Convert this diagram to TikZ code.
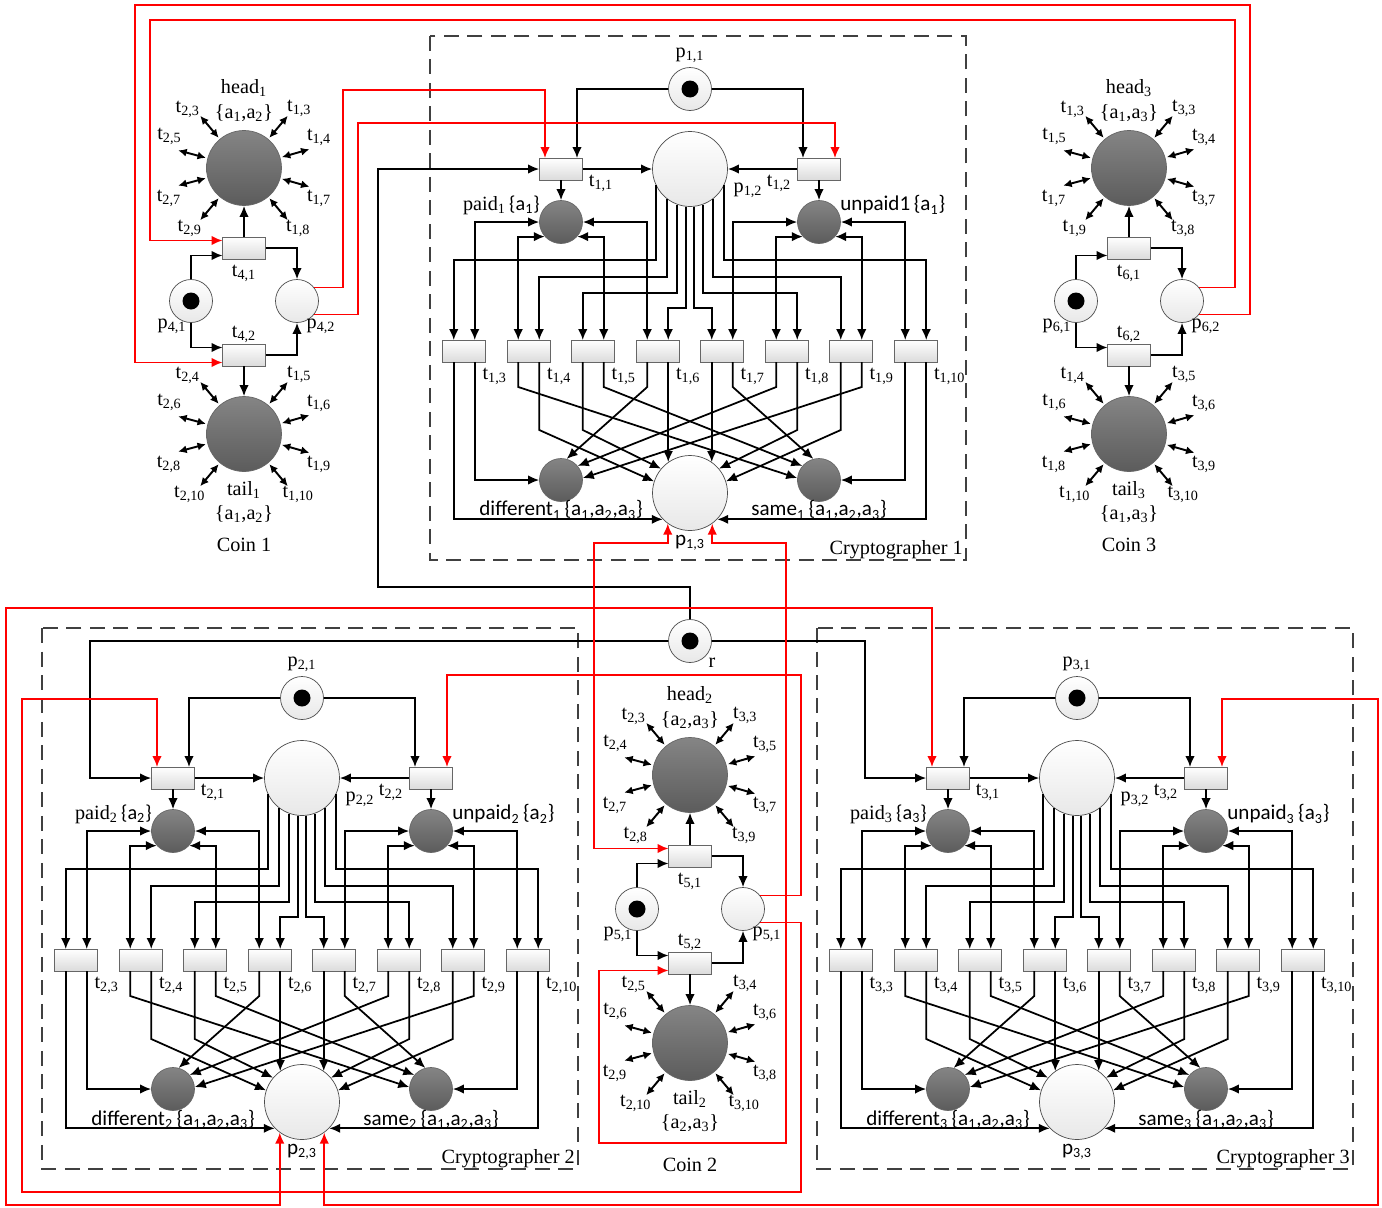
\documentclass[tikz,border=0pt]{standalone}
\usepackage{fontspec}
\setmainfont{Liberation Serif}
\setsansfont{Carlito}
\usetikzlibrary{calc,arrows.meta}

\tikzset{
	pl/.style={circle,draw=black!70,thin,top color=white,bottom color=black!9,minimum size=0.86cm,inner sep=0pt},
	bigpl/.style={pl,minimum size=1.5cm},
	graypl/.style={circle,draw=black!60,thin,top color=black!48,bottom color=black!64,minimum size=0.86cm,inner sep=0pt},
	coinpl/.style={graypl,minimum size=1.5cm},
	tok/.style={circle,fill=black,minimum size=0.34cm,inner sep=0pt},
	trans/.style={rectangle,draw=black!60,thin,top color=white,bottom color=black!14,minimum width=0.86cm,minimum height=0.44cm,inner sep=0pt},
	flow/.style={-{Latex[length=2.2mm,width=1.9mm]},line width=1pt},
	biflow/.style={{Latex[length=2.2mm,width=1.9mm]}-{Latex[length=2.2mm,width=1.9mm]},line width=1pt},
	readflow/.style={{Latex[length=1.7mm,width=1.6mm]}-{Latex[length=1.7mm,width=1.6mm]},line width=1.1pt},
	rflow/.style={flow,red},
	rbiflow/.style={biflow,red},
	cbox/.style={draw=black!75,line width=0.9pt,dash pattern=on 0.3cm off 0.17cm},
	lab/.style={inner sep=0pt,font=\fontsize{11.5}{13}\selectfont},
	slab/.style={inner sep=0pt,font=\sffamily\fontsize{12}{14}\selectfont}
}

\begin{document}
\begin{tikzpicture}[x=0.02cm,y=-0.02cm]
\useasboundingbox (0,0) rectangle (1382,1207);

% cryptographers
\foreach \ci/\cx/\cy/\bt/\unp in {1/690/169/133/{unpaid1},2/302/778/150/{unpaid\textsubscript{2}},3/1077/778/150/{unpaid\textsubscript{3}}}{
\begin{scope}[shift={(\cx,\cy)}]
	\draw[cbox] (-260,-\bt) rectangle (276,391);
	\node[lab,anchor=base east] (c\ci-name) at (273,385) {Cryptographer \ci};
	\node[pl] (c\ci-p1) at (0,-80) {};
	\node[tok] (c\ci-tok) at (c\ci-p1) {};
	\node[bigpl] (c\ci-p2) at (0,0) {};
	\node[bigpl] (c\ci-p3) at (0,324) {};
	\node[trans] (c\ci-t1) at (-129,0) {};
	\node[trans] (c\ci-t2) at (129,0) {};
	\node[graypl] (c\ci-paid) at (-129,53) {};
	\node[graypl] (c\ci-unpaid) at (129,53) {};
	\node[graypl] (c\ci-dif) at (-129,311) {};
	\node[graypl] (c\ci-same) at (129,311) {};
	\coordinate (c\ci-t1-r) at (-145,-11);
	\coordinate (c\ci-t1-b) at (-113,-11);
	\coordinate (c\ci-t2-b) at (113,-11);
	\coordinate (c\ci-t2-r) at (145,-11);
	\coordinate (c\ci-lv1) at (0,91);
	\coordinate (c\ci-lv2) at (0,108);
	\coordinate (c\ci-lv3) at (0,124);
	\coordinate (c\ci-lv4) at (0,139);
	\coordinate (c\ci-la) at (0,218);
	\coordinate (c\ci-lb) at (0,261);
	\foreach \k in {3,...,10}{
		\pgfmathsetmacro\dx{(\k-6.5)*64.5}
		\node[trans] (c\ci-t\k) at (\dx,182) {};
		\node[lab,anchor=west] (c\ci-t\k-lab) at (\dx+18,207) {t\textsubscript{\ci,\k}};
		\coordinate (c\ci-t\k-li) at (\dx-10.5,171);
		\coordinate (c\ci-t\k-ri) at (\dx+10.5,171);
		\coordinate (c\ci-t\k-lo) at (\dx-10.5,193);
		\coordinate (c\ci-t\k-ro) at (\dx+10.5,193);
	}

	\node[lab] (c\ci-p1-lab) at (0,-114) {p\textsubscript{\ci,1}};
	\node[lab] (c\ci-p2-lab) at (58,21) {p\textsubscript{\ci,2}};
	\node[lab] (c\ci-t1-lab) at (-89,14) {t\textsubscript{\ci,1}};
	\node[lab] (c\ci-t2-lab) at (89,14) {t\textsubscript{\ci,2}};
	\node[lab,anchor=east] (c\ci-paid-lab) at (-150,36) {paid\textsubscript{\ci}\,{\sffamily\{a\textsubscript{\ci}\}}};
	\node[slab,anchor=west] (c\ci-unpaid-lab) at (150,36) {\unp\,\{a\textsubscript{\ci}\}};
	\node[slab] (c\ci-dif-lab) at (-129,341) {different\textsubscript{\ci}\,\{a\textsubscript{1},a\textsubscript{2},a\textsubscript{3}\}};
	\node[slab] (c\ci-same-lab) at (129,341) {same\textsubscript{\ci}\,\{a\textsubscript{1},a\textsubscript{2},a\textsubscript{3}\}};
	\node[slab] (c\ci-p3-lab) at (0,374) {p\textsubscript{\ci,3}};

	\draw[flow] (c\ci-p1) -| (c\ci-t1-b);
	\draw[flow] (c\ci-p1) -| (c\ci-t2-b);
	\draw[flow] (c\ci-t1) -- (c\ci-p2);
	\draw[flow] (c\ci-t2) -- (c\ci-p2);
	\draw[flow] (c\ci-t1) -- (c\ci-paid);
	\draw[flow] (c\ci-t2) -- (c\ci-unpaid);

	% p2 feeds every test transition
	\foreach \k/\ang/\lv/\sd in {3/-155/1/li,4/-128/2/ri,5/-110/3/li,6/-96/4/ri,7/-84/4/li,8/-70/3/ri,9/-52/2/li,10/-25/1/ri}
		\draw[flow] (c\ci-p2.\ang) |- (c\ci-t\k-\sd |- c\ci-lv\lv) -- (c\ci-t\k-\sd);

	\draw[biflow] (c\ci-paid) -| (c\ci-t3-ri);
	\draw[biflow] (c\ci-paid.-138) -| (c\ci-t4-li);
	\draw[biflow] (c\ci-paid.-42) -| (c\ci-t5-ri);
	\draw[biflow] (c\ci-paid) -| (c\ci-t6-li);
	\draw[biflow] (c\ci-unpaid) -| (c\ci-t7-ri);
	\draw[biflow] (c\ci-unpaid.-138) -| (c\ci-t8-li);
	\draw[biflow] (c\ci-unpaid.-42) -| (c\ci-t9-ri);
	\draw[biflow] (c\ci-unpaid) -| (c\ci-t10-li);

	\draw[flow] (c\ci-t3-lo) |- (c\ci-p3.-136);
	\draw[flow] (c\ci-t3-ro) |- (c\ci-dif);
	\draw[flow] (c\ci-t10-lo) |- (c\ci-same);
	\draw[flow] (c\ci-t10-ro) |- (c\ci-p3.-44);
	\draw[flow] (c\ci-t6-ro) -- (c\ci-t6-ro |- c\ci-p3.125);
	\draw[flow] (c\ci-t7-lo) -- (c\ci-t7-lo |- c\ci-p3.55);
	\foreach \k/\sd/\lv/\tg in {4/lo/a/same.175,4/ro/b/p3.162,5/lo/b/p3.140,5/ro/a/same.140,6/lo/a/dif.75,7/ro/a/same.105,8/lo/a/dif.40,8/ro/b/p3.40,9/lo/b/p3.18,9/ro/a/dif.5}
		\draw[flow] (c\ci-t\k-\sd) -- (c\ci-t\k-\sd |- c\ci-l\lv) -- (c\ci-\tg);
\end{scope}
}

% coins
\foreach \cn/\kx/\hy/\ty/\ix/\sA/\sB/\q/\ly in {4/244/168/434/1/1/2/2/545,5/690/775/1043/2/2/3/1/1165,6/1129/168/434/3/1/3/2/545}{
	\pgfmathsetmacro\py{(\hy+\ty)/2}
	\node[coinpl] (c\cn-head) at (\kx,\hy) {};
	\node[coinpl] (c\cn-tail) at (\kx,\ty) {};
	\node[trans] (c\cn-t1) at (\kx,\py-53) {};
	\node[trans] (c\cn-t2) at (\kx,\py+54) {};
	\node[pl] (c\cn-p1) at (\kx-53,\py) {};
	\node[tok] (c\cn-tok) at (c\cn-p1) {};
	\node[pl] (c\cn-p2) at (\kx+53,\py) {};
	\coordinate (c\cn-t1-r) at (\kx-21.5,\py-60.5);
	\coordinate (c\cn-t1-b) at (\kx-21.5,\py-45.5);
	\coordinate (c\cn-t2-b) at (\kx-21.5,\py+46.5);
	\coordinate (c\cn-t2-r) at (\kx-21.5,\py+61.5);

	\node[lab] (c\cn-head-lab) at (\kx,\hy-80) {head\textsubscript{\ix}};
	\node[lab] (c\cn-head-set) at (\kx,\hy-55) {\{a\textsubscript{\sA},a\textsubscript{\sB}\}};
	\node[lab] (c\cn-tail-lab) at (\kx,\ty+56) {tail\textsubscript{\ix}};
	\node[lab] (c\cn-tail-set) at (\kx,\ty+80) {\{a\textsubscript{\sA},a\textsubscript{\sB}\}};
	\node[lab] (c\cn-name) at (\kx,\ly) {Coin \ix};
	\node[lab] (c\cn-t1-lab) at (\kx,\py-28) {t\textsubscript{\cn,1}};
	\node[lab] (c\cn-t2-lab) at (\kx,\py+33) {t\textsubscript{\cn,2}};
	\node[lab] (c\cn-p1-lab) at (\kx-72,\py+25) {p\textsubscript{\cn,1}};
	\node[lab] (c\cn-p2-lab) at (\kx+77,\py+25) {p\textsubscript{\cn,\q}};

	\draw[flow] (c\cn-p1) |- (c\cn-t1-b);
	\draw[flow] (c\cn-p1) |- (c\cn-t2-b);
	\draw[flow] (c\cn-t1) -| (c\cn-p2);
	\draw[flow] (c\cn-t2) -| (c\cn-p2);
	\draw[flow] (c\cn-t1) -- (c\cn-head);
	\draw[flow] (c\cn-t2) -- (c\cn-tail);
}

% read arcs of the coin sides
\foreach \cp/\lst in {
	c4-head/{130/134/{2,3},165/157/{2,5},-165/-158/{2,7},-130/-132/{2,9},50/47/{1,3},16/22/{1,4},-16/-22/{1,7},-50/-48/{1,8}},
	c4-tail/{130/134/{2,4},165/157/{2,6},-165/-158/{2,8},-130/-132/{2,10},50/47/{1,5},16/22/{1,6},-16/-22/{1,9},-50/-48/{1,10}},
	c5-head/{130/134/{2,3},165/157/{2,4},-165/-158/{2,7},-130/-132/{2,8},50/47/{3,3},16/22/{3,5},-16/-22/{3,7},-50/-48/{3,9}},
	c5-tail/{130/134/{2,5},165/157/{2,6},-165/-158/{2,9},-130/-132/{2,10},50/47/{3,4},16/22/{3,6},-16/-22/{3,8},-50/-48/{3,10}},
	c6-head/{130/134/{1,3},165/157/{1,5},-165/-158/{1,7},-130/-132/{1,9},50/47/{3,3},16/22/{3,4},-16/-22/{3,7},-50/-48/{3,8}},
	c6-tail/{130/134/{1,4},165/157/{1,6},-165/-158/{1,8},-130/-132/{1,10},50/47/{3,5},16/22/{3,6},-16/-22/{3,9},-50/-48/{3,10}}}
	\foreach \ang/\lang/\txt in \lst {
		\draw[readflow] ($(\cp.center)!1.04!(\cp.\ang)$) -- ($(\cp.center)!1.8!(\cp.\ang)$);
		\node[lab] (\cp-\ang) at ($(\cp.center)!2.14!(\cp.\lang)$) {t\textsubscript{\txt}};
	}

% round token r
\node[pl] (r) at (690,641) {};
\node[tok] (r-tok) at (r) {};
\node[lab] (r-lab) at (712,663) {r};
\draw[flow] (r) |- (378,587) |- (c1-t1);
\draw[flow] (r) -| (90,778) -- (c2-t1);
\draw[flow] (r) -| (865,778) -- (c3-t1);

% coin outcomes to the cryptographers
\draw[rflow] (c4-p2.38) -| (343,90) -| (c1-t1-r);
\draw[rflow] (c4-p2.-38) -| (358,123) -| (c1-t2-r);
\draw[rflow] (c5-p2.38) -| (801,675) -| (c2-t2-r);
\draw[rflow] (c5-p2.-38) -| (801,1192) -- (22,1192) -- (22,699) -| (c2-t1-r);
\draw[rflow] (c6-p2.38) -| (1235,20) -- (150,20) |- (c4-t1-r);
\draw[rflow] (c6-p2.-38) -| (1250,5) -- (135,5) |- (c4-t2-r);
\draw[rbiflow] (c1-p3.-126) |- (594,543) |- (c5-t1-r);
\draw[rbiflow] (c1-p3.-54) |- (786,543) -- (786,1143) -- (599,1143) |- (c5-t2-r);
\draw[rbiflow] (c2-p3.-126) |- (6,1205) -- (6,608) -| (c3-t1-r);
\draw[rbiflow] (c2-p3.-54) |- (1378,1205) -- (1378,699) -| (c3-t2-r);
\end{tikzpicture}
\end{document}
